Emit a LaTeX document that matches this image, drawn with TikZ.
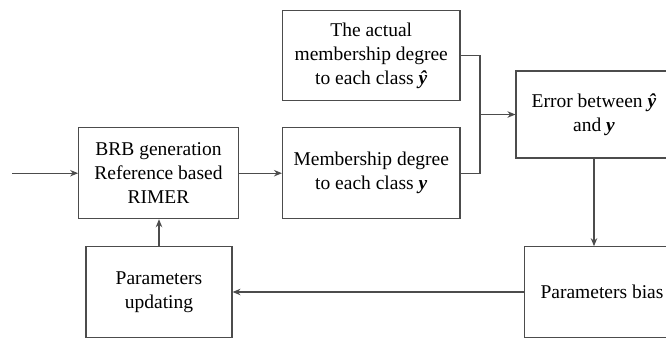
\documentclass[tikz,border=0pt]{standalone}
\usepackage{fontspec}
\setmainfont{Liberation Serif}
\usetikzlibrary{arrows.meta}
\newcommand{\vy}{\textbf{\textit{y}}}
\newcommand{\vyhat}{\textbf{\textit{\^y}}}
\tikzset{
  block/.style={draw=black!70, line width=1.1pt, align=center, inner sep=0pt,
    font=\fontsize{19.5}{24}\selectfont},
  flow/.style={draw=black!70, line width=1.1pt, -{Stealth[length=8pt,width=6.5pt]}},
  link/.style={draw=black!70, line width=1.1pt}
}
\begin{document}
\begin{tikzpicture}[x=1pt, y=-1pt]
\useasboundingbox (0,0) rectangle (666,338);
\begin{scope}
\clip (0,0) rectangle (666,338);
% blocks
\node[block, minimum width=177.5pt, minimum height=90pt] (actual) at (371.25,55.7)
  {The actual\\membership degree\\to each class \vyhat};
\node[block, minimum width=159.7pt, minimum height=91pt] (brb) at (158.5,173.2)
  {BRB generation\\Reference based\\RIMER};
\node[block, minimum width=177.5pt, minimum height=91pt] (memb) at (371.25,173.2)
  {Membership degree\\to each class \vy};
\node[block, minimum width=156pt, minimum height=87pt] (err) at (594,114.5)
  {Error between \vyhat\\and \vy};
\node[block, minimum width=155pt, minimum height=90.6pt] (bias) at (602,292)
  {Parameters bias};
\node[block, minimum width=146pt, minimum height=90.6pt] (upd) at (159,292)
  {Parameters\\updating};
% connectors
\coordinate (in) at (12,173.2);
\coordinate (join) at (480,114.5);
\draw[flow] (in) -- (brb.west);
\draw[flow] (brb.east) -- (memb.west);
\draw[link] (actual.east) -| (join);
\draw[link] (memb.east) -| (join);
\draw[flow] (join) -- (err.west);
\draw[flow] (err.south) -- (err.south |- bias.north);
\draw[flow] (bias.west) -- (upd.east);
\draw[flow] (upd.north) -- (upd.north |- brb.south);
\end{scope}
\end{tikzpicture}
\end{document}
